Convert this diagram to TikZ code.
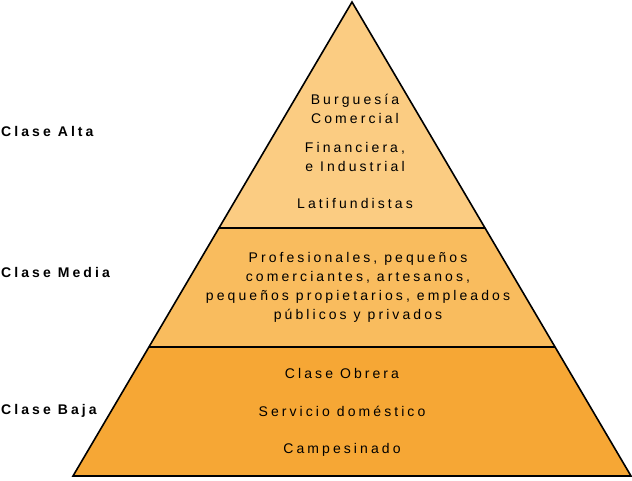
\documentclass[tikz,border=0pt]{standalone}
\usepackage{fontspec}
\setmainfont{Liberation Sans}[LetterSpace=22]
\usetikzlibrary{calc}
\definecolor{ctop}{HTML}{FBCC82}
\definecolor{cmid}{HTML}{F9BC5E}
\definecolor{cbot}{HTML}{F6A735}
\begin{document}
\begin{tikzpicture}[x=1pt,y=-1pt,
  lvl/.style={align=center,font=\fontsize{14}{19}\selectfont,inner sep=0pt},
  side/.style={anchor=west,font=\bfseries\fontsize{14}{19}\selectfont,inner sep=0pt},
  band/.style={draw=black,line width=1.6pt,line join=miter}]
\useasboundingbox (0,0) rectangle (632,480);
\coordinate (A) at (352,2);
\coordinate (L) at (73,476);
\coordinate (R) at (631,476);
\coordinate (m1) at ($(A)!0.4768!(L)$);
\coordinate (m1r) at ($(A)!0.4768!(R)$);
\coordinate (m2) at ($(A)!0.7278!(L)$);
\coordinate (m2r) at ($(A)!0.7278!(R)$);
\fill[ctop] (A) -- (m1r) -- (m1) -- cycle;
\fill[cmid] (m1) -- (m1r) -- (m2r) -- (m2) -- cycle;
\fill[cbot] (m2) -- (m2r) -- (R) -- (L) -- cycle;
\draw[band] (m1) -- (m1r) (m2) -- (m2r);
\draw[band] (A) -- (R) -- (L) -- cycle;
\node[lvl] (b1) at (355,109) {Burguesía\\Comercial};
\node[lvl] (b2) at (355,157) {Financiera,\\e Industrial};
\node[lvl] (b3) at (355,203) {Latifundistas};
\node[lvl] (mtxt) at (358,287) {Profesionales, pequeños\\comerciantes, artesanos,\\pequeños propietarios, empleados\\públicos y privados};
\node[lvl] (o1) at (342,373) {Clase Obrera};
\node[lvl] (o2) at (342,411) {Servicio doméstico};
\node[lvl] (o3) at (342,450) {Campesinado};
\node[side] (ca) at (1,131) {Clase Alta};
\node[side] (cm) at (1,272) {Clase Media};
\node[side] (cb) at (1,411) {Clase Baja};
\end{tikzpicture}
\end{document}
